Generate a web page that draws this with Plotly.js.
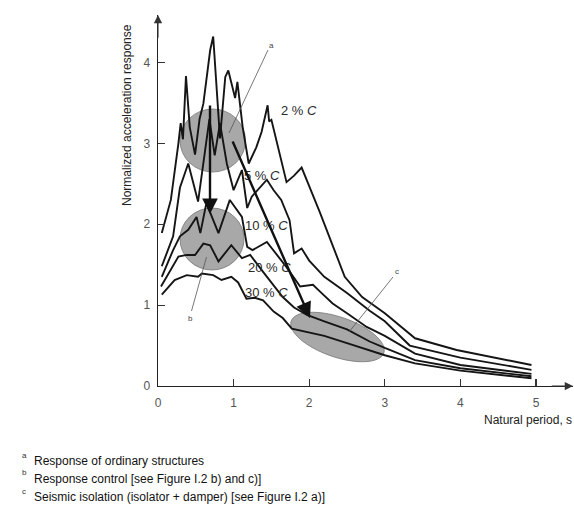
<!DOCTYPE html>
<html><head><meta charset="utf-8">
<script src="https://cdn.plot.ly/plotly-3.0.1.min.js"></script>
<style>html,body{margin:0;padding:0;background:#fff;} #chart{width:574px;height:509px;}</style>
</head><body><div id="chart"></div>
<script>
// ---- data (natural period in s, normalized acceleration response) ----
const period2  = [0.05,0.17,0.27,0.30,0.33,0.37,0.42,0.49,0.55,0.60,0.69,0.73,0.78,0.82,0.89,0.93,1.02,1.05,1.12,1.20,1.30,1.37,1.45,1.47,1.50,1.60,1.70,1.80,1.90,2.14,2.47,2.70,3.00,3.40,3.95,4.94];
const resp2    = [1.89,2.30,3.00,3.25,3.05,3.83,3.20,2.86,3.30,3.49,4.15,4.32,3.62,3.06,3.82,3.90,3.56,3.76,3.20,2.75,2.95,3.14,3.47,3.27,3.29,2.90,2.52,2.60,2.70,2.15,1.35,1.10,0.90,0.59,0.445,0.26];
const period5  = [0.05,0.20,0.29,0.40,0.53,0.60,0.68,0.75,0.82,0.91,1.00,1.11,1.18,1.24,1.34,1.44,1.53,1.63,1.74,1.80,1.90,2.00,2.20,2.50,2.80,3.00,3.33,4.00,4.94];
const resp5    = [1.48,1.85,2.45,2.75,2.28,2.75,3.30,2.85,3.25,2.75,2.42,2.67,2.20,2.34,2.45,2.55,2.42,2.30,2.05,1.64,1.70,1.55,1.35,1.15,0.93,0.80,0.50,0.35,0.20];
const period10 = [0.05,0.20,0.29,0.40,0.51,0.56,0.64,0.80,0.95,1.11,1.18,1.25,1.44,1.55,1.70,1.88,2.05,2.14,2.31,2.50,2.76,3.00,3.40,4.00,4.94];
const resp10   = [1.35,1.68,1.85,1.93,2.09,1.89,2.26,1.89,2.30,2.09,1.72,1.68,1.78,1.65,1.47,1.23,1.25,1.17,1.02,0.90,0.73,0.62,0.40,0.26,0.15];
const period20 = [0.04,0.27,0.38,0.49,0.60,0.69,0.80,0.97,1.11,1.22,1.39,1.50,1.65,1.80,1.97,2.20,2.50,2.80,3.00,3.40,4.00,4.94];
const resp20   = [1.23,1.60,1.62,1.62,1.76,1.74,1.54,1.74,1.58,1.62,1.41,1.28,1.10,0.97,0.88,0.80,0.70,0.55,0.47,0.32,0.22,0.12];
const period30 = [0.05,0.22,0.38,0.53,0.58,0.73,0.84,0.97,1.06,1.17,1.28,1.39,1.53,1.65,1.77,1.97,2.20,2.50,2.80,3.00,3.40,4.00,4.94];
const resp30   = [1.13,1.31,1.37,1.35,1.39,1.37,1.31,1.35,1.28,1.08,1.09,1.06,0.92,0.84,0.71,0.67,0.62,0.53,0.44,0.38,0.28,0.19,0.095];

const xTicks = [0,1,2,3,4,5];
const xTickText = ['0','1','2','3','4','5'];
const yTicks = [0,1,2,3,4];
const yTickText = ['0','1','2','3','4'];

const curveLabels = ['2 % <i>C</i>','5 % <i>C</i>','10 % <i>C</i>','20 % <i>C</i>','30 % <i>C</i>'];
const footLetters = ['a','b','c'];
const footTexts = ['Response of ordinary structures',
                   'Response control [see Figure I.2 b) and c)]',
                   'Seismic isolation (isolator + damper) [see Figure I.2 a)]'];

// ---- layout geometry ----
const W = 574, H = 509, ML = 158, MR = 1, MT = 15, MB = 123;
const PW = W - ML - MR, PH = H - MT - MB;
const XPX = 75.6, YPX = 80.9;             // pixels per unit
const XMAX = PW / XPX, YMAX = PH / YPX;
const px2x = p => (p - ML) / XPX;          // pixel -> data
const py2y = p => (H - MB - p) / YPX;
const ppx = p => (p - ML) / PW;            // pixel -> paper
const ppy = p => (H - MB - p) / PH;

const font = 'Liberation Sans, Arial, Helvetica, sans-serif';
const lineStyle = {color:'#151515', width:1.9};

const series = [[period2,resp2],[period5,resp5],[period10,resp10],[period20,resp20],[period30,resp30]];
const traces = series.map((s,i) => ({
  x: s[0], y: s[1], type:'scatter', mode:'lines', line: lineStyle,
  name: curveLabels[i], hoverinfo:'skip', showlegend:false
}));

// rotated ellipse (pixel params) as a bezier path in data coords
function ellipsePath(cx, cy, a, b, angDeg){
  const t = angDeg*Math.PI/180, k = 0.5523;
  const ux = a*Math.cos(t), uy = a*Math.sin(t);
  const vx = -b*Math.sin(t), vy = b*Math.cos(t);
  const P = (px,py) => px2x(px).toFixed(4)+','+py2y(py).toFixed(4);
  const pts = [[1,0],[0,1],[-1,0],[0,-1]];
  let d = 'M' + P(cx+ux, cy+uy);
  for (let i=0;i<4;i++){
    const [a1,b1] = pts[i], [a2,b2] = pts[(i+1)%4];
    const c1 = [cx + a1*ux + b1*vx + k*(a2*ux + b2*vx), cy + a1*uy + b1*vy + k*(a2*uy + b2*vy)];
    const c2 = [cx + a2*ux + b2*vx + k*(a1*ux + b1*vx), cy + a2*uy + b2*vy + k*(a1*uy + b1*vy)];
    const e  = [cx + a2*ux + b2*vx, cy + a2*uy + b2*vy];
    d += ' C' + P(c1[0],c1[1]) + ' ' + P(c2[0],c2[1]) + ' ' + P(e[0],e[1]);
  }
  return d + ' Z';
}

const hatch = 'rgba(115,115,115,0.62)';
const shapes = [
  {type:'circle', xref:'x', yref:'y', x0:px2x(180), x1:px2x(245.5), y0:py2y(172), y1:py2y(109), fillcolor:hatch, line:{color:'#777', width:0.8}, layer:'below'},
  {type:'circle', xref:'x', yref:'y', x0:px2x(180), x1:px2x(244), y0:py2y(270), y1:py2y(208), fillcolor:hatch, line:{color:'#777', width:0.8}, layer:'below'},
  {type:'path', xref:'x', yref:'y', path: ellipsePath(337.5, 337, 49, 20, 19), fillcolor:hatch, line:{color:'#777', width:0.8}, layer:'below'},
  // leader lines
  {type:'line', xref:'x', yref:'y', x0:px2x(268), y0:py2y(50), x1:px2x(229), y1:py2y(133), line:{color:'#555', width:0.8}},
  {type:'line', xref:'x', yref:'y', x0:px2x(191.5), y0:py2y(311), x1:px2x(206.5), y1:py2y(257), line:{color:'#555', width:0.8}},
  {type:'line', xref:'x', yref:'y', x0:px2x(393), y0:py2y(277), x1:px2x(349), y1:py2y(332), line:{color:'#555', width:0.8}}
];

const ann = [];
// curve labels
const labPos = [[299,110],[262,175],[266,225],[269,267],[266,292]];
curveLabels.forEach((t,i)=>ann.push({text:t, x:px2x(labPos[i][0]), y:py2y(labPos[i][1]), xref:'x', yref:'y', showarrow:false,
  xanchor:'center', yanchor:'middle', font:{family:font, size:13, color:'#2a2a2a'}}));
// a, b, c markers
[['a',271.5,45],['b',190.5,318],['c',397,271]].forEach(l=>ann.push({text:l[0], x:px2x(l[1]), y:py2y(l[2]), xref:'x', yref:'y', showarrow:false,
  xanchor:'center', yanchor:'middle', font:{family:font, size:8, color:'#444'}}));
// big arrows
ann.push({x:px2x(310), y:py2y(318), ax:px2x(232), ay:py2y(140), xref:'x', yref:'y', axref:'x', ayref:'y', text:'', showarrow:true,
  arrowhead:2, arrowsize:1.3, arrowwidth:2.4, arrowcolor:'#111', standoff:0, startstandoff:0});
ann.push({x:px2x(210), y:py2y(214), ax:px2x(210), ay:py2y(104), xref:'x', yref:'y', axref:'x', ayref:'y', text:'', showarrow:true,
  arrowhead:2, arrowsize:1.3, arrowwidth:2.4, arrowcolor:'#111', standoff:0, startstandoff:0});
// axis arrowheads
ann.push({x:0, y:YMAX, ax:0, ay:YMAX-0.3, xref:'x', yref:'y', axref:'x', ayref:'y', text:'', showarrow:true,
  arrowhead:2, arrowsize:1.5, arrowwidth:1.1, arrowcolor:'#333', standoff:0});
ann.push({x:XMAX, y:0, ax:XMAX-0.3, ay:0, xref:'x', yref:'y', axref:'x', ayref:'y', text:'', showarrow:true,
  arrowhead:2, arrowsize:1.5, arrowwidth:1.1, arrowcolor:'#333', standoff:0});
// axis titles
ann.push({text:'Normalized acceleration response', x:ppx(127), y:ppy(115), xref:'paper', yref:'paper', textangle:-90, showarrow:false,
  xanchor:'center', yanchor:'middle', font:{family:font, size:12, color:'#222'}});
ann.push({text:'Natural period, s', x:ppx(574), y:ppy(420), xref:'paper', yref:'paper', xanchor:'right', yanchor:'middle', showarrow:false,
  font:{family:font, size:12, color:'#222'}});
// footnotes
const footY = [461, 479, 497];
const supY = [455, 472.5, 492];
footTexts.forEach((t,i)=>{
  ann.push({text:footLetters[i], x:ppx(24), y:ppy(supY[i]), xref:'paper', yref:'paper', showarrow:false,
    xanchor:'center', yanchor:'middle', font:{family:font, size:8, color:'#333'}});
  ann.push({text:t, x:ppx(32), y:ppy(footY[i]), xref:'paper', yref:'paper', xanchor:'left', yanchor:'middle', showarrow:false,
    font:{family:font, size:12, color:'#111'}});
});

const axisCommon = {showgrid:false, zeroline:false, showline:true, linecolor:'#222', linewidth:1.3,
  ticks:'inside', ticklen:7, tickwidth:1.1, tickcolor:'#333', fixedrange:true,
  tickfont:{family:font, size:12, color:'#555'}};

const layout = {
  width:W, height:H, margin:{l:ML, r:MR, t:MT, b:MB, pad:0},
  paper_bgcolor:'#fff', plot_bgcolor:'#fff', showlegend:false,
  xaxis: Object.assign({}, axisCommon, {range:[0,XMAX], tickvals:xTicks, ticktext:xTickText, ticklabelstandoff:5}),
  yaxis: Object.assign({}, axisCommon, {range:[0,YMAX], tickvals:yTicks, ticktext:yTickText, ticklabelstandoff:4}),
  shapes: shapes, annotations: ann
};

Plotly.newPlot('chart', traces, layout, {displayModeBar:false, staticPlot:true});
</script>
</body></html>
